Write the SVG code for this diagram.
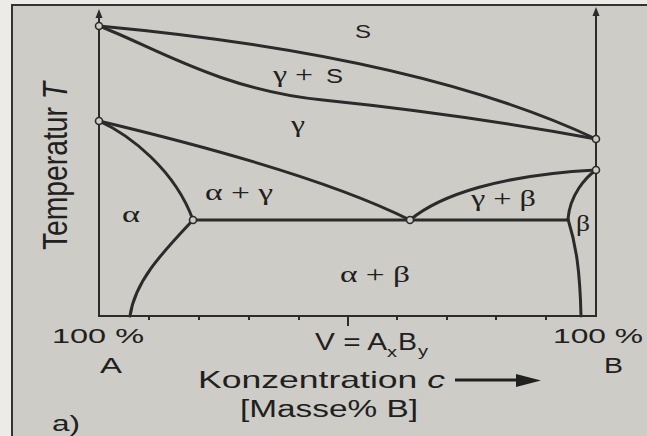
<svg xmlns="http://www.w3.org/2000/svg" width="647" height="436" viewBox="0 0 647 436">
<defs>
<style>
.bg{fill:#cdccc7}
.ln{fill:none;stroke:#2b2b2b;stroke-width:3;stroke-linecap:round;stroke-linejoin:round}
.ax{fill:none;stroke:#2b2b2b;stroke-width:2}
.pt{fill:#cdccc7;stroke:#2b2b2b;stroke-width:1.6}
.sans{font-family:"Liberation Sans",Arial,sans-serif;fill:#202020}
.ser{font-family:"Liberation Serif","Times New Roman",serif;fill:#202020}
</style>
</defs>
<rect x="0" y="0" width="647" height="436" fill="#ecebe8"/>
<rect class="bg" x="12" y="5" width="635" height="431"/>
<path d="M12,436 V5 H647" fill="none" stroke="#333" stroke-width="2"/>

<g id="connectors">
<g id="axes">
<line class="ax" x1="99" y1="316" x2="99" y2="14"/>
<path d="M95.5,18 L99,9 L102.5,18 Z" fill="#2b2b2b"/>
<line class="ax" x1="596" y1="316" x2="596" y2="12"/>
<path d="M592.5,16 L596,7 L599.5,16 Z" fill="#2b2b2b"/>
<line class="ax" x1="98" y1="316" x2="597" y2="316"/>
<path class="ax" d="M149,316v4 M199,316v4 M249,316v4 M299,316v4 M348,316v10 M397,316v4 M447,316v4 M496,316v4 M546,316v4"/>
</g>
<path id="liquidus" class="ln" d="M99,26 C250,40 450,70 596,139"/>
<path id="solidus" class="ln" d="M99,26 C150,45 220,90 323,100 C420,110 520,125 596,139"/>
<path id="gamma-left" class="ln" d="M99,121 C200,145 330,180 410,220"/>
<path id="gamma-right" class="ln" d="M410,220 C440,195 500,175 596,170"/>
<path id="alpha-upper" class="ln" d="M99,121 C130,135 175,170 193,220"/>
<path id="alpha-lower" class="ln" d="M193,220 C165,250 135,280 130,316"/>
<path id="eutectoid" class="ln" d="M193,220 H568" stroke-width="2.6"/>
<path id="beta-upper" class="ln" d="M596,170 C585,178 570,195 568,219"/>
<path id="beta-lower" class="ln" d="M568,219 C576,245 580,270 581,316"/>
<path id="conc-arrow" d="M455,380 H522" stroke="#202020" stroke-width="3" fill="none"/>
<path d="M516,374 L541,380.5 L516,387 Z" fill="#202020"/>
</g>

<g id="points">
<circle class="pt" cx="99" cy="26" r="3.5"/>
<circle class="pt" cx="99" cy="121" r="3.5"/>
<circle class="pt" cx="193" cy="220" r="3.5"/>
<circle class="pt" cx="410" cy="220" r="3.5"/>
<circle class="pt" cx="596" cy="139" r="3.5"/>
<circle class="pt" cx="596" cy="170" r="3.5"/>
</g>

<g id="phase-S"><text class="sans" x="355" y="38" font-size="19" textLength="16" lengthAdjust="spacingAndGlyphs">S</text></g>
<g id="phase-gamma-S"><text class="ser" x="273" y="82" font-size="23" textLength="40" lengthAdjust="spacingAndGlyphs">γ +</text><text class="sans" x="326" y="83" font-size="20" textLength="17" lengthAdjust="spacingAndGlyphs">S</text></g>
<g id="phase-gamma"><text class="ser" x="291" y="132" font-size="23" textLength="14" lengthAdjust="spacingAndGlyphs">γ</text></g>
<g id="phase-alpha-gamma"><text class="ser" x="205" y="200" font-size="23" textLength="68" lengthAdjust="spacingAndGlyphs">α + γ</text></g>
<g id="phase-alpha"><text class="ser" x="122" y="222" font-size="23" textLength="18" lengthAdjust="spacingAndGlyphs">α</text></g>
<g id="phase-gamma-beta"><text class="ser" x="471" y="206" font-size="23" textLength="65" lengthAdjust="spacingAndGlyphs">γ + β</text></g>
<g id="phase-beta"><text class="ser" x="576" y="231" font-size="23" textLength="14" lengthAdjust="spacingAndGlyphs">β</text></g>
<g id="phase-alpha-beta"><text class="ser" x="340" y="282" font-size="23" textLength="70" lengthAdjust="spacingAndGlyphs">α + β</text></g>

<g id="axis-labels">
<text class="sans" transform="translate(67,250) scale(1.35,1) rotate(-90)" x="0" y="0" font-size="26" textLength="168" lengthAdjust="spacingAndGlyphs">Temperatur <tspan font-style="italic">T</tspan></text>
<text class="sans" x="52" y="343" font-size="21" textLength="92" lengthAdjust="spacingAndGlyphs">100 %</text>
<text class="sans" x="100" y="373" font-size="22" textLength="22" lengthAdjust="spacingAndGlyphs">A</text>
<text class="sans" x="553" y="343" font-size="21" textLength="90" lengthAdjust="spacingAndGlyphs">100 %</text>
<text class="sans" x="604" y="373" font-size="22" textLength="19" lengthAdjust="spacingAndGlyphs">B</text>
<text class="sans" x="315" y="350" font-size="23" textLength="72" lengthAdjust="spacingAndGlyphs">V = A</text>
<text class="sans" x="387" y="357" font-size="14" textLength="10" lengthAdjust="spacingAndGlyphs">x</text>
<text class="sans" x="398" y="350" font-size="23" textLength="19" lengthAdjust="spacingAndGlyphs">B</text>
<text class="sans" x="418" y="356" font-size="14" textLength="10" lengthAdjust="spacingAndGlyphs">y</text>
<text class="sans" x="198" y="388" font-size="24" textLength="247" lengthAdjust="spacingAndGlyphs">Konzentration <tspan font-style="italic">c</tspan></text>
<text class="sans" x="240" y="417" font-size="23" textLength="178" lengthAdjust="spacingAndGlyphs">[Masse% B]</text>
<text class="sans" x="52" y="431" font-size="22" textLength="28" lengthAdjust="spacingAndGlyphs">a)</text>
</g>
</svg>
